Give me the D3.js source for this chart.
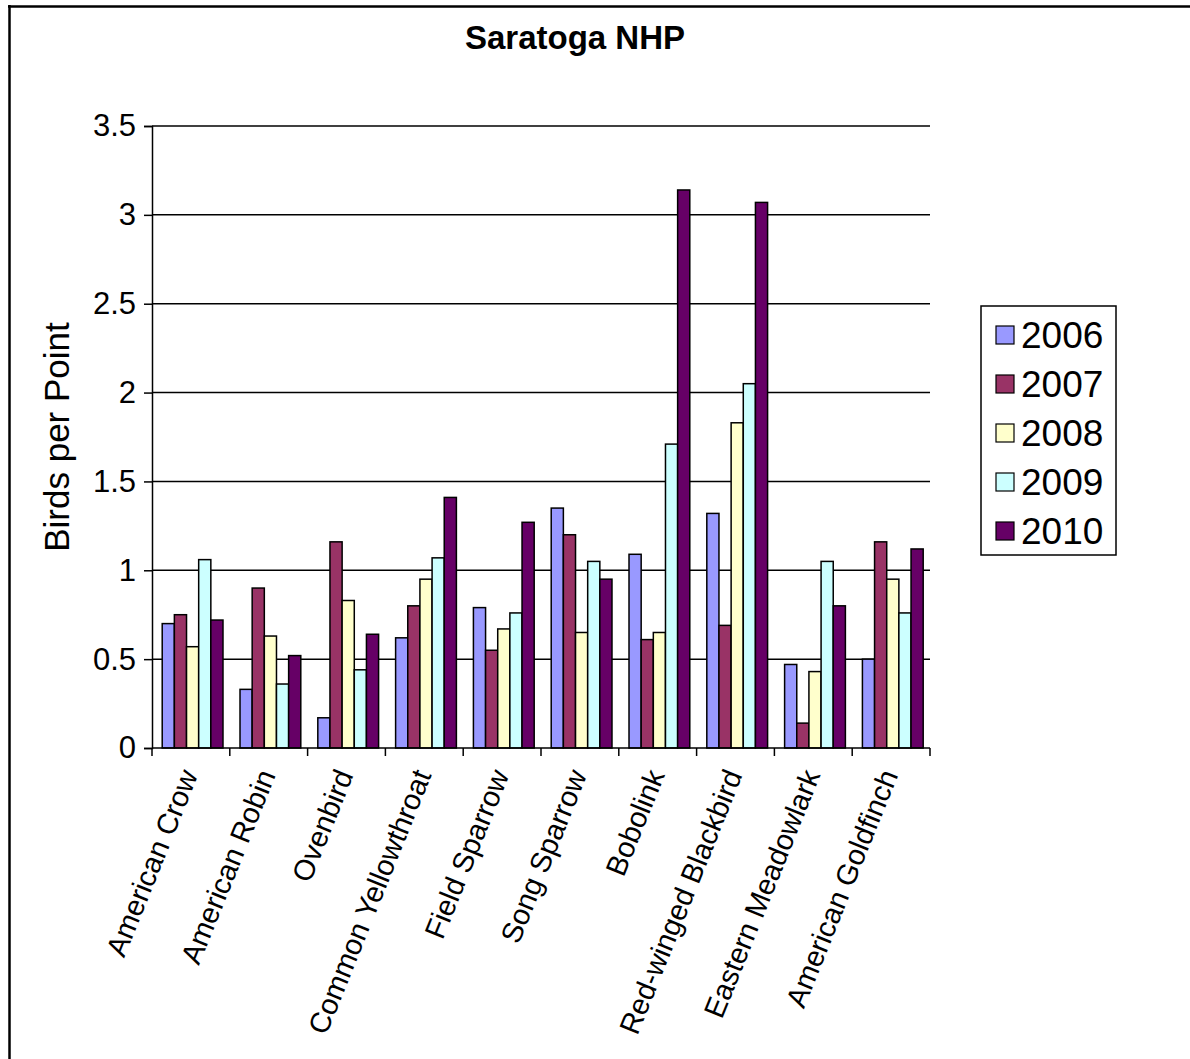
<!DOCTYPE html>
<html>
<head>
<meta charset="utf-8">
<script src="https://cdn.jsdelivr.net/npm/d3@7"></script>
<style>
  html, body { margin: 0; padding: 0; background: #fff; }
  svg { display: block; font-family: "Liberation Sans", Arial, sans-serif; }
</style>
</head>
<body>
<svg id="chart" width="1190" height="1059"></svg>
<script>
const categories = ["American Crow", "American Robin", "Ovenbird", "Common Yellowthroat", "Field Sparrow",
  "Song Sparrow", "Bobolink", "Red-winged Blackbird", "Eastern Meadowlark", "American Goldfinch"];
const years = ["2006", "2007", "2008", "2009", "2010"];
const v2006 = [0.70, 0.33, 0.17, 0.62, 0.79, 1.35, 1.09, 1.32, 0.47, 0.50];
const v2007 = [0.75, 0.90, 1.16, 0.80, 0.55, 1.20, 0.61, 0.69, 0.14, 1.16];
const v2008 = [0.57, 0.63, 0.83, 0.95, 0.67, 0.65, 0.65, 1.83, 0.43, 0.95];
const v2009 = [1.06, 0.36, 0.44, 1.07, 0.76, 1.05, 1.71, 2.05, 1.05, 0.76];
const v2010 = [0.72, 0.52, 0.64, 1.41, 1.27, 0.95, 3.14, 3.07, 0.80, 1.12];
const colors = ["#9999FF", "#993366", "#FFFFCC", "#CCFFFF", "#660066"];
const yTicks = [0, 0.5, 1, 1.5, 2, 2.5, 3, 3.5];
const chartTitle = "Saratoga NHP";
const yLabel = "Birds per Point";

const seriesValues = [v2006, v2007, v2008, v2009, v2010];
const svg = d3.select("#chart");

// frame (top and left edges)
svg.append("line").attr("x1", 8).attr("x2", 1190).attr("y1", 6.5).attr("y2", 6.5)
  .attr("stroke", "#000").attr("stroke-width", 2.5);
svg.append("line").attr("x1", 9.5).attr("x2", 9.5).attr("y1", 5).attr("y2", 1059)
  .attr("stroke", "#000").attr("stroke-width", 2.5);

const pLeft = 152, pRight = 930, pTop = 126, pBottom = 748;
const x = d3.scaleBand().domain(categories).range([pLeft, pRight]).padding(0);
const xi = d3.scaleBand().domain(years).range([0, x.bandwidth()])
  .paddingInner(0).paddingOuter(0.7).align(0.6);
const y = d3.scaleLinear().domain([0, 3.5]).range([pBottom, pTop]);

// gridlines
svg.append("g").selectAll("line").data(yTicks.filter(d => d > 0)).join("line")
  .attr("x1", pLeft).attr("x2", pRight)
  .attr("y1", d => y(d)).attr("y2", d => y(d))
  .attr("stroke", "#000").attr("stroke-width", 1.5);

// bars
const groups = svg.append("g").selectAll("g").data(categories).join("g")
  .attr("transform", d => `translate(${x(d)},0)`);
groups.selectAll("rect")
  .data((c, ci) => years.map((yr, si) => ({ yr, si, v: seriesValues[si][ci] })))
  .join("rect")
  .attr("x", d => xi(d.yr))
  .attr("width", xi.bandwidth())
  .attr("y", d => y(d.v))
  .attr("height", d => y(0) - y(d.v))
  .attr("fill", d => colors[d.si])
  .attr("stroke", "#000").attr("stroke-width", 1.5);

// y axis
const yAxis = d3.axisLeft(y).tickValues(yTicks).tickSize(8).tickPadding(8)
  .tickFormat(d => String(d));
const gy = svg.append("g").attr("transform", `translate(${pLeft},0)`).call(yAxis);
gy.select(".domain").attr("stroke", "#000").attr("stroke-width", 1.5);
gy.selectAll(".tick line").attr("stroke", "#000").attr("stroke-width", 1.5);
gy.selectAll(".tick text").attr("font-size", 31).attr("fill", "#000")
  .attr("font-family", "Liberation Sans, Arial, sans-serif");

// x axis (ticks at category boundaries)
const boundaries = categories.map(c => x(c)).concat([pRight]);
svg.append("line").attr("x1", pLeft).attr("x2", pRight).attr("y1", pBottom).attr("y2", pBottom)
  .attr("stroke", "#000").attr("stroke-width", 1.5);
svg.append("g").selectAll("line").data(boundaries).join("line")
  .attr("x1", d => d).attr("x2", d => d).attr("y1", pBottom).attr("y2", pBottom + 8)
  .attr("stroke", "#000").attr("stroke-width", 1.5);

// category labels
svg.append("g").selectAll("text").data(categories).join("text")
  .attr("transform", d => `translate(${x(d) + x.bandwidth() / 2 - 2},${pBottom + 23}) rotate(-68)`)
  .attr("text-anchor", "end")
  .attr("dy", "0.35em")
  .attr("font-size", 29)
  .attr("fill", "#000")
  .text(d => d);

// title
svg.append("text").attr("x", 575).attr("y", 49).attr("text-anchor", "middle")
  .attr("font-size", 33).attr("font-weight", "bold").attr("fill", "#000").text(chartTitle);

// y label
svg.append("text").attr("transform", `translate(69,${(pTop + pBottom) / 2}) rotate(-90)`)
  .attr("text-anchor", "middle").attr("font-size", 35).attr("fill", "#000").text(yLabel);

// legend
const lg = svg.append("g");
lg.append("rect").attr("x", 981).attr("y", 306).attr("width", 135).attr("height", 249)
  .attr("fill", "#fff").attr("stroke", "#000").attr("stroke-width", 1.5);
const ly = d3.scalePoint().domain(years).range([335, 531]);
lg.selectAll("rect.sw").data(years).join("rect").attr("class", "sw")
  .attr("x", 996).attr("y", d => ly(d) - 9).attr("width", 18).attr("height", 18)
  .attr("fill", (d, i) => colors[i]).attr("stroke", "#000").attr("stroke-width", 1.2);
lg.selectAll("text").data(years).join("text")
  .attr("x", 1021).attr("y", d => ly(d)).attr("dy", "0.36em")
  .attr("font-size", 37).attr("fill", "#000").text(d => d);
</script>
</body>
</html>
